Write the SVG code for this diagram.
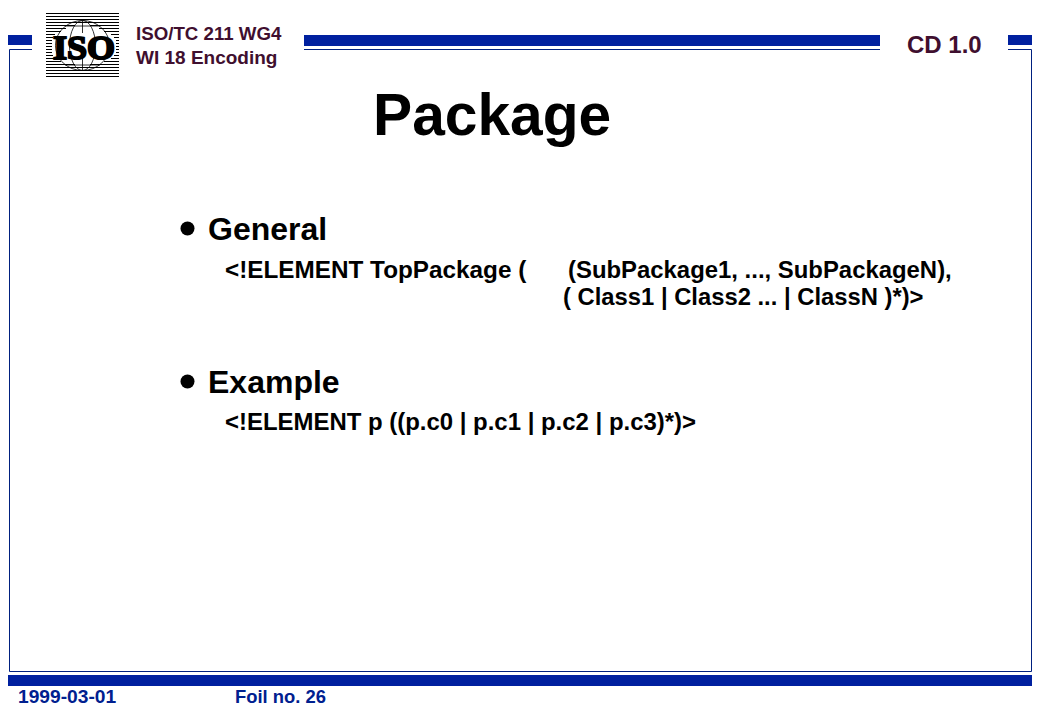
<svg xmlns="http://www.w3.org/2000/svg" width="1040" height="720" viewBox="0 0 1040 720">
<style>
.s{font-family:"Liberation Sans",Arial,sans-serif;font-weight:bold}
.bar{fill:#00209f}
.ln{stroke:#00207f;stroke-width:1;fill:none}
.mar{fill:#3f0f2f}
.blk{fill:#000}
.blu{fill:#00208f}
.g{stroke:#000;stroke-width:.8;fill:none}
.h{stroke:#000;stroke-width:1}
</style>
<rect width="1040" height="720" fill="#fff"/>
<g id="frame">
<rect class="bar" x="8" y="35" width="24" height="10"/>
<rect class="bar" x="304" y="35" width="576" height="11"/>
<rect class="bar" x="1008" y="35" width="24" height="10"/>
<rect class="bar" x="8" y="675" width="1024" height="11"/>
<path class="ln" d="M32 49.5H9.5V671.5H1031.5V49.5H1008M304 49.5H880"/>
</g>
<g id="logo">
<path class="h" d="M46 13.500H119M46 16.500H119M46 19.500H119M46 22.500H119M46 25.500H75M90 25.500H119M46 28.500H66M99 28.500H119M46 31.500H61M104 31.500H119M46 34.500H55M111 34.500H119M46 37.500H53M114 37.500H119M46 40.500H52M116 40.500H119M46 43.500H52M116 43.500H119M46 46.500H52M116 46.500H119M46 49.500H52M116 49.500H119M46 52.500H52M116 52.500H119M46 55.500H53M114 55.500H119M46 58.500H55M111 58.500H119M46 61.500H61M104 61.500H119M46 64.500H75M90 64.500H119M46 67.500H119M46 70.500H119M46 73.500H119M46 76.500H119"/>
<g class="g"><ellipse cx="82.500" cy="45.500" rx="27" ry="25"/><ellipse cx="82.500" cy="45.500" rx="13" ry="25"/><path d="M82.500 20.500V33M82.500 58V70.500M65 26H100M65 65H100"/></g>
<text class="blk" x="53" y="58.500" style="font-family:'Liberation Serif',serif;font-weight:bold;font-size:34px;stroke:#000;stroke-width:2" textLength="62" lengthAdjust="spacingAndGlyphs">ISO</text>
</g>
<g id="header">
<text class="s mar" x="136" y="40" font-size="18.700">ISO/TC 211 WG4</text>
<text class="s mar" x="136" y="64" font-size="19">WI 18 Encoding</text>
<text class="s mar" x="907" y="52.500" font-size="24">CD 1.0</text>
</g>
<g id="content">
<text class="s blk" x="373" y="134.500" font-size="58.700">Package</text>
<circle class="blk" cx="187.500" cy="228.500" r="7"/>
<text class="s blk" x="208" y="240" font-size="32">General</text>
<text class="s blk" x="225" y="277.500" font-size="24.300">&lt;!ELEMENT TopPackage (</text>
<text class="s blk" x="568" y="277.500" font-size="23.900">(SubPackage1, ..., SubPackageN),</text>
<text class="s blk" x="563" y="304.500" font-size="23.800">( Class1 | Class2 ... | ClassN )*)&gt;</text>
<circle class="blk" cx="187.500" cy="381.500" r="7"/>
<text class="s blk" x="208" y="393" font-size="32">Example</text>
<text class="s blk" x="225" y="430" font-size="23.950">&lt;!ELEMENT p ((p.c0 | p.c1 | p.c2 | p.c3)*)&gt;</text>
</g>
<g id="footer">
<text class="s blu" x="18" y="703" font-size="19.200">1999-03-01</text>
<text class="s blu" x="235" y="703" font-size="18.400">Foil no. 26</text>
</g>
</svg>
